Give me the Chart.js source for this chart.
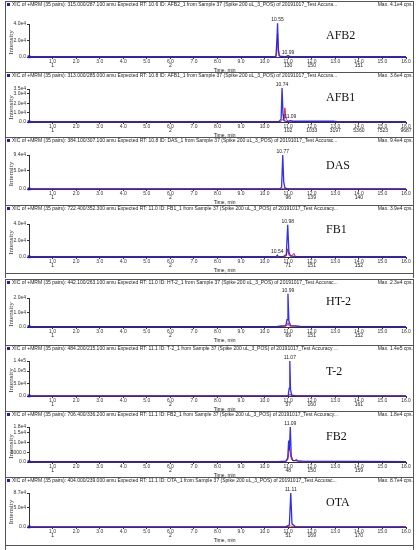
<!DOCTYPE html>
<html>
<head>
<meta charset="utf-8">
<script src="https://cdn.jsdelivr.net/npm/chart.js@4"></script>
<style>
  body { margin: 0; background: #fff; }
  #wrap { position: relative; width: 416px; height: 550px; overflow: hidden; }
  #wrap canvas { position: absolute; left: 0; }
</style>
</head>
<body>
<div id="wrap"></div>
<script>
// x axis (time, min)
var timeTicks = [1, 2, 3, 4, 5, 6, 7, 8, 9, 10, 11, 12, 13, 14, 15, 16];
var scanTicks = [1, 6, 11, 12, 14];

// AFB2
var afb2Time = [0, 10.40, 10.48, 10.52, 10.55, 10.58, 10.62, 10.70, 10.90, 10.99, 11.10, 11.30, 16];
var afb2Blue = [300, 300, 800, 20000, 41000, 9000, 1500, 600, 500, 1500, 500, 300, 300];
var afb2Red  = [300, 300, 500, 6000, 28000, 12000, 1200, 500, 400, 800, 400, 300, 300];
var afb2YTicks = [0, 20000, 40000];
var afb2Peaks = [10.55, 10.99];
var afb2Scan = ['1', '2', '130', '150', '151'];

// AFB1
var afb1Time = [0, 10.60, 10.70, 10.74, 10.78, 10.82, 10.86, 10.92, 11.00, 11.09, 11.20, 11.40, 12.00, 12.90, 13.10, 16];
var afb1Blue = [300, 300, 3000, 36000, 8000, 1500, 1000, 800, 700, 1500, 800, 900, 800, 800, 300, 300];
var afb1Red  = [300, 300, 500, 2000, 3000, 5000, 15000, 3000, 800, 900, 500, 500, 500, 500, 300, 300];
var afb1YTicks = [0, 10000, 20000, 30000, 35000];
var afb1Peaks = [10.74, 11.09];
var afb1ScanT = [1, 6, 11, 12, 13, 14, 15, 16];
var afb1Scan = ['1', '2', '102', '1033', '3197', '5360', '7523', '9687'];

// DAS
var dasTime = [0, 10.65, 10.72, 10.77, 10.81, 10.86, 10.95, 11.10, 16];
var dasBlue = [300, 300, 5000, 94000, 20000, 3000, 800, 400, 300];
var dasRed  = [300, 300, 400, 1500, 1200, 600, 400, 300, 300];
var dasYTicks = [0, 50000, 94000];
var dasPeaks = [10.77];
var dasScan = ['1', '2', '96', '139', '140'];

// FB1
var fb1Time = [0, 10.40, 10.50, 10.54, 10.58, 10.80, 10.92, 10.98, 11.03, 11.10, 11.20, 11.24, 11.30, 11.50, 16];
var fb1Blue = [300, 300, 800, 2200, 800, 500, 3000, 39000, 6000, 1200, 800, 800, 600, 500, 300];
var fb1Red  = [300, 300, 400, 600, 400, 300, 1000, 10000, 2000, 800, 2500, 4500, 800, 400, 300];
var fb1YTicks = [0, 20000, 40000];
var fb1Peaks = [10.98, 10.54];
var fb1Scan = ['1', '2', '71', '151', '152'];

// HT-2
var ht2Time = [0, 10.50, 10.70, 10.90, 10.95, 10.99, 11.03, 11.10, 11.30, 11.50, 16];
var ht2Blue = [300, 300, 700, 900, 5000, 23000, 4000, 1000, 800, 500, 300];
var ht2Red  = [300, 300, 400, 500, 1500, 3000, 1000, 600, 500, 400, 300];
var ht2YTicks = [0, 10000, 20000];
var ht2Peaks = [10.99];
var ht2Scan = ['1', '2', '69', '151', '152'];

// T-2
var t2Time = [0, 10.90, 11.00, 11.04, 11.07, 11.10, 11.15, 11.25, 11.40, 16];
var t2Blue = [500, 500, 1500, 30000, 140000, 25000, 3000, 1500, 800, 500];
var t2Red  = [500, 500, 800, 3000, 8000, 3000, 2000, 2500, 800, 500];
var t2YTicks = [0, 50000, 100000, 140000];
var t2Peaks = [11.07];
var t2Scan = ['1', '2', '57', '160', '161'];

// FB2
var fb2Time = [0, 10.60, 10.90, 10.98, 11.02, 11.05, 11.09, 11.13, 11.20, 11.30, 11.35, 11.40, 11.60, 16];
var fb2Blue = [200, 200, 500, 2000, 11000, 6000, 18000, 3000, 800, 700, 700, 500, 400, 200];
var fb2Red  = [200, 200, 300, 1000, 4000, 8000, 5000, 1500, 600, 800, 1600, 500, 300, 200];
var fb2YTicks = [0, 5000, 10000, 15000, 18000];
var fb2Peaks = [11.09];
var fb2Scan = ['1', '2', '48', '150', '159'];

// OTA
var otaTime = [0, 10.60, 10.90, 11.05, 11.11, 11.16, 11.30, 11.70, 16];
var otaBlue = [300, 300, 1000, 5000, 87000, 8000, 1200, 300, 300];
var otaRed  = [300, 300, 500, 1000, 3000, 1000, 500, 300, 300];
var otaYTicks = [0, 50000, 87000];
var otaPeaks = [11.11];
var otaScan = ['1', '2', '51', '169', '170'];

var headPre = 'XIC of +MRM (35 pairs): ';
var headMid = ' from Sample 37 (Spike 200 uL_3_POS) of 20191017_Test ';

var panels = [
  { name: 'AFB2', head: headPre + '315.000/287.100 amu Expected RT: 10.6 ID: AFB2_1' + headMid + 'Accura...', max: 'Max. 4.1e4 cps.',
    top: 1, bottom: 72, headY: 5, tickY: 24, baseY: 57, labelY: 36,
    t: afb2Time, blue: afb2Blue, red: afb2Red, yTicks: afb2YTicks, peaks: afb2Peaks, scanT: scanTicks, scan: afb2Scan },
  { name: 'AFB1', head: headPre + '313.000/285.000 amu Expected RT: 10.8 ID: AFB1_1' + headMid + 'Accura...', max: 'Max. 3.6e4 cps.',
    top: 72, bottom: 137, headY: 76, tickY: 89, baseY: 122, labelY: 98,
    t: afb1Time, blue: afb1Blue, red: afb1Red, yTicks: afb1YTicks, peaks: afb1Peaks, scanT: afb1ScanT, scan: afb1Scan },
  { name: 'DAS', head: headPre + '384.100/307.100 amu Expected RT: 10.8 ID: DAS_1' + headMid + 'Accurac...', max: 'Max. 9.4e4 cps.',
    top: 137, bottom: 205, headY: 141, tickY: 155, baseY: 189, labelY: 166,
    t: dasTime, blue: dasBlue, red: dasRed, yTicks: dasYTicks, peaks: dasPeaks, scanT: scanTicks, scan: dasScan },
  { name: 'FB1', head: headPre + '722.400/352.300 amu Expected RT: 11.0 ID: FB1_1' + headMid + 'Accuracy...', max: 'Max. 3.9e4 cps.',
    top: 205, bottom: 278, headY: 209, tickY: 224, baseY: 257, labelY: 230,
    t: fb1Time, blue: fb1Blue, red: fb1Red, yTicks: fb1YTicks, peaks: fb1Peaks, scanT: scanTicks, scan: fb1Scan },
  { name: 'HT-2', head: headPre + '442.100/263.100 amu Expected RT: 11.0 ID: HT-2_1' + headMid + 'Accurac...', max: 'Max. 2.3e4 cps.',
    top: 279, bottom: 345, headY: 283, tickY: 298, baseY: 327, labelY: 302,
    t: ht2Time, blue: ht2Blue, red: ht2Red, yTicks: ht2YTicks, peaks: ht2Peaks, scanT: scanTicks, scan: ht2Scan },
  { name: 'T-2', head: headPre + '484.200/215.100 amu Expected RT: 11.1 ID: T-2_1' + headMid + 'Accuracy ...', max: 'Max. 1.4e5 cps.',
    top: 345, bottom: 411, headY: 349, tickY: 361, baseY: 396, labelY: 372,
    t: t2Time, blue: t2Blue, red: t2Red, yTicks: t2YTicks, peaks: t2Peaks, scanT: scanTicks, scan: t2Scan },
  { name: 'FB2', head: headPre + '706.400/336.200 amu Expected RT: 11.1 ID: FB2_1' + headMid + 'Accuracy...', max: 'Max. 1.8e4 cps.',
    top: 411, bottom: 477, headY: 415, tickY: 427, baseY: 462, labelY: 437,
    t: fb2Time, blue: fb2Blue, red: fb2Red, yTicks: fb2YTicks, peaks: fb2Peaks, scanT: scanTicks, scan: fb2Scan },
  { name: 'OTA', head: headPre + '404.000/239.000 amu Expected RT: 11.1 ID: OTA_1' + headMid + 'Accurac...', max: 'Max. 8.7e4 cps.',
    top: 477, bottom: 550, headY: 481, tickY: 493, baseY: 527, labelY: 503,
    t: otaTime, blue: otaBlue, red: otaRed, yTicks: otaYTicks, peaks: otaPeaks, scanT: scanTicks, scan: otaScan }
];

var BLUE = 'rgba(25, 25, 235, 0.9)';
var RED = 'rgba(240, 20, 30, 0.9)';
var SMALL = '5px "Liberation Sans", Arial, sans-serif';

function sci(v) {
  if (v === 0) return '0.0';
  if (v < 10000) return v.toFixed(1);
  var e = Math.floor(Math.log10(v));
  return (v / Math.pow(10, e)).toFixed(1) + 'e' + e;
}

function nearest(arr, x) {
  var best = 0;
  for (var i = 1; i < arr.length; i++) {
    if (Math.abs(arr[i] - x) < Math.abs(arr[best] - x)) best = i;
  }
  return best;
}

// draws header, frame, extra axis rows and labels
var decor = {
  id: 'decor',
  afterDraw: function(chart) {
    var p = chart.options.plugins.decor.panel;
    var c = chart.ctx;
    var xs = chart.scales.x, ys = chart.scales.y;
    var top = p.top;
    c.save();

    // frame
    c.strokeStyle = '#555';
    c.lineWidth = 1;
    c.beginPath();
    c.moveTo(5.5, 0.5);
    c.lineTo(413.5, 0.5);
    c.moveTo(5.5, 0);
    c.lineTo(5.5, chart.height);
    c.moveTo(413.5, 0);
    c.lineTo(413.5, chart.height);
    if (p.name === 'FB1' || p.name === 'OTA') {
      c.moveTo(5, chart.height - 4.5);
      c.lineTo(414, chart.height - 4.5);
    }
    c.stroke();

    // header
    c.fillStyle = '#1a1ad0';
    c.fillRect(7, p.headY - top - 2, 3, 3);
    c.fillStyle = '#222';
    c.font = SMALL;
    c.textBaseline = 'middle';
    c.textAlign = 'left';
    c.fillText(p.head, 12, p.headY - top);
    c.textAlign = 'right';
    c.fillText(p.max, 413, p.headY - top);

    // second row of x labels and axis title
    c.textAlign = 'center';
    var by = p.baseY - top;
    for (var i = 0; i < p.scanT.length; i++) {
      c.fillText(p.scan[i], xs.getPixelForValue(p.scanT[i]), by + 9);
    }
    c.fillText('Time, min', xs.getPixelForValue(8.3), by + 13.5);

    // peak labels
    for (var k = 0; k < p.peaks.length; k++) {
      var idx = nearest(p.t, p.peaks[k]);
      c.textBaseline = 'bottom';
      c.fillText(p.peaks[k].toFixed(2), xs.getPixelForValue(p.peaks[k]), ys.getPixelForValue(p.blue[idx]) - 1);
    }

    // y title
    c.save();
    c.translate(11, (chart.chartArea.top + chart.chartArea.bottom) / 2 + 2);
    c.rotate(-Math.PI / 2);
    c.font = '7px "Liberation Serif", "Times New Roman", serif';
    c.textBaseline = 'middle';
    c.fillStyle = '#333';
    c.fillText('Intensity', 0, 0);
    c.restore();

    // compound name
    c.font = '12px "Liberation Serif", "Times New Roman", serif';
    c.fillStyle = '#111';
    c.textAlign = 'left';
    c.textBaseline = 'middle';
    c.fillText(p.name, 326, p.labelY - top);
    c.restore();
  }
};

var wrap = document.getElementById('wrap');

panels.forEach(function(p) {
  var h = p.bottom - p.top;
  var cv = document.createElement('canvas');
  cv.width = 416;
  cv.height = h;
  cv.style.top = p.top + 'px';
  cv.style.width = '416px';
  cv.style.height = h + 'px';
  wrap.appendChild(cv);

  var xh = 8;
  var bluePts = p.t.map(function(t, i) { return { x: t, y: p.blue[i] }; });
  var redPts = p.t.map(function(t, i) { return { x: t, y: p.red[i] }; });

  new Chart(cv.getContext('2d'), {
    type: 'line',
    data: {
      datasets: [
        { data: bluePts, order: 1, borderColor: BLUE, borderWidth: 1.3, tension: 0, clip: false,
          pointStyle: 'rect', pointBackgroundColor: '#1a1ad0', pointBorderWidth: 0,
          pointRadius: function(ctx) { return ctx.dataIndex === 0 ? 2 : 0; } },
        { data: redPts, order: 2, borderColor: RED, borderWidth: 1, pointRadius: 0, tension: 0, clip: false }
      ]
    },
    plugins: [decor],
    options: {
      responsive: false,
      animation: false,
      devicePixelRatio: 1,
      layout: {
        padding: { left: 5, right: 10, top: p.tickY - p.top, bottom: h - (p.baseY - p.top) - xh }
      },
      plugins: {
        legend: { display: false },
        tooltip: { enabled: false },
        decor: { panel: p }
      },
      scales: {
        x: {
          type: 'linear',
          min: 0,
          max: 16,
          afterFit: function(s) { s.height = xh; },
          afterBuildTicks: function(s) { s.ticks = timeTicks.map(function(v) { return { value: v }; }); },
          grid: { drawOnChartArea: false, tickLength: 2, color: '#333' },
          border: { color: '#333', width: 1 },
          ticks: {
            padding: 0,
            maxRotation: 0,
            autoSkip: false,
            color: '#333',
            font: { family: '"Liberation Sans", Arial, sans-serif', size: 5 },
            callback: function(v) { return v.toFixed(1); }
          }
        },
        y: {
          min: 0,
          max: p.yTicks[p.yTicks.length - 1],
          afterFit: function(s) { s.width = 24; },
          afterBuildTicks: function(s) { s.ticks = p.yTicks.map(function(v) { return { value: v }; }); },
          grid: { drawOnChartArea: false, tickLength: 2, color: '#333' },
          border: { color: '#333', width: 1 },
          ticks: {
            padding: 1,
            autoSkip: false,
            color: '#333',
            font: { family: '"Liberation Sans", Arial, sans-serif', size: 5 },
            callback: function(v) { return sci(v); }
          }
        }
      }
    }
  });
});
</script>
</body>
</html>
